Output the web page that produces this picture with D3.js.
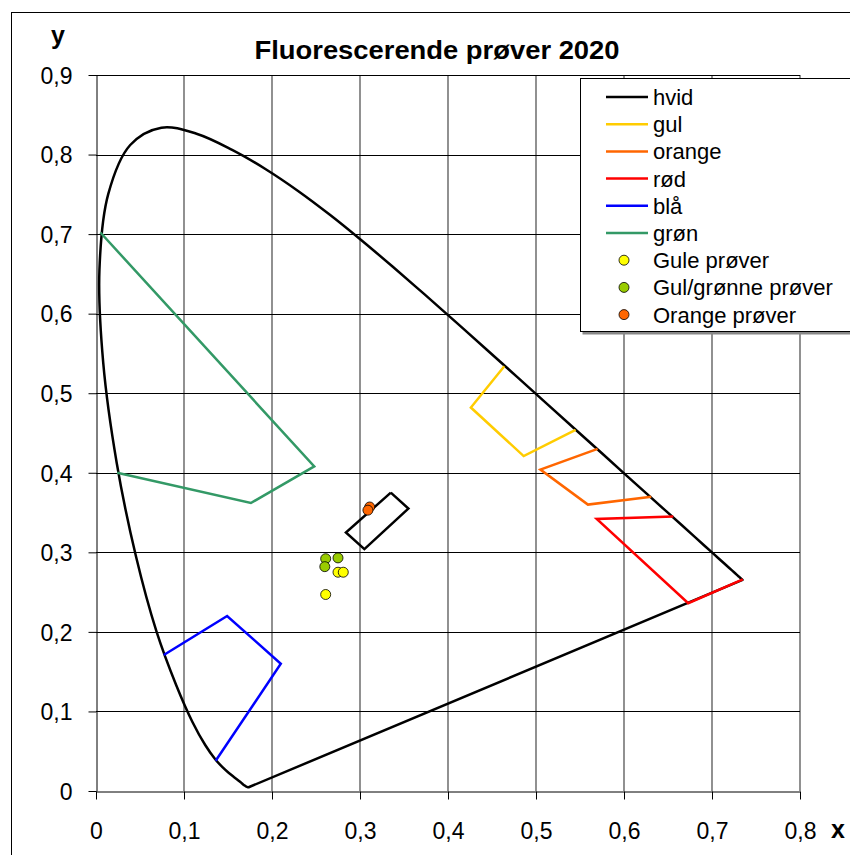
<!DOCTYPE html>
<meta charset="utf-8">
<script src="https://d3js.org/d3.v7.min.js"></script>
<style type="text/css">
  body { margin: 0; background: #fff; }
  svg { display: block; font-family: "Liberation Sans", Arial, sans-serif; }
  .tick text { font-size: 23px; fill: #000; }
</style>

<body></body>

<script>
  // CIE 1931 spectral locus (x, y)
  var locus = [
    [0.1741, 0.0050], [0.1738, 0.0049], [0.1733, 0.0048], [0.1726, 0.0048],
    [0.1714, 0.0051], [0.1703, 0.0058], [0.1689, 0.0069], [0.1669, 0.0086],
    [0.1644, 0.0109], [0.1611, 0.0138], [0.1566, 0.0177], [0.1510, 0.0227],
    [0.1440, 0.0297], [0.1355, 0.0399], [0.1241, 0.0578], [0.1096, 0.0868],
    [0.0913, 0.1327], [0.0687, 0.2007], [0.0454, 0.2950], [0.0235, 0.4127],
    [0.0082, 0.5384], [0.0039, 0.6548], [0.0139, 0.7502], [0.0389, 0.8120],
    [0.0743, 0.8338], [0.1142, 0.8262], [0.1547, 0.8059], [0.1929, 0.7816],
    [0.2296, 0.7543], [0.2658, 0.7243], [0.3016, 0.6923], [0.3373, 0.6589],
    [0.3731, 0.6245], [0.4087, 0.5896], [0.4441, 0.5547], [0.4788, 0.5202],
    [0.5125, 0.4866], [0.5448, 0.4544], [0.5752, 0.4242], [0.6029, 0.3965],
    [0.6270, 0.3725], [0.6482, 0.3514], [0.6658, 0.3340], [0.6801, 0.3197],
    [0.6915, 0.3083], [0.7006, 0.2993], [0.7079, 0.2920], [0.7140, 0.2859],
    [0.7190, 0.2809], [0.7230, 0.2770], [0.7260, 0.2740], [0.7283, 0.2717],
    [0.7300, 0.2700], [0.7320, 0.2680], [0.7334, 0.2666], [0.7347, 0.2653]
  ];

  // colour regions
  var hvid = [[0.335, 0.375], [0.355, 0.355], [0.305, 0.304], [0.284, 0.325], [0.335, 0.375]];
  var gul = [[0.464, 0.534], [0.426, 0.482], [0.486, 0.421], [0.545, 0.454]];
  var orange = [[0.570, 0.430], [0.505, 0.404], [0.559, 0.360], [0.631, 0.370]];
  var rod = [[0.656, 0.345], [0.569, 0.342], [0.673, 0.236], [0.735, 0.266]];
  var bla = [[0.077, 0.171], [0.149, 0.220], [0.210, 0.160], [0.136, 0.038]];
  var gron = [[0.005, 0.702], [0.248, 0.408], [0.176, 0.362], [0.024, 0.400]];

  // measured samples
  var guleProver = [[0.275, 0.275], [0.281, 0.275], [0.261, 0.247]];
  var gulGronneProver = [[0.261, 0.292], [0.260, 0.282], [0.275, 0.293]];
  var orangeProver = [[0.311, 0.357], [0.309, 0.353]];

  var xTicks = [0, 0.1, 0.2, 0.3, 0.4, 0.5, 0.6, 0.7, 0.8];
  var yTicks = [0, 0.1, 0.2, 0.3, 0.4, 0.5, 0.6, 0.7, 0.8, 0.9];

  var lineSeries = [
    {name: 'hvid', data: hvid, color: '#000000'},
    {name: 'gul', data: gul, color: '#FFCC00'},
    {name: 'orange', data: orange, color: '#FF6600'},
    {name: 'rød', data: rod, color: '#FF0000'},
    {name: 'blå', data: bla, color: '#0000FF'},
    {name: 'grøn', data: gron, color: '#339966'}
  ];
  var pointSeries = [
    {name: 'Gule prøver', data: guleProver, color: '#FFFF00'},
    {name: 'Gul/grønne prøver', data: gulGronneProver, color: '#99CC00'},
    {name: 'Orange prøver', data: orangeProver, color: '#FF6600'}
  ];

  var width = 850;
  var height = 855;
  var svg = d3.select('body').append('svg')
    .attr('width', width)
    .attr('height', height);

  var xScale = d3.scaleLinear().domain([0, 0.8]).range([96, 800]);
  var yScale = d3.scaleLinear().domain([0, 0.9]).range([791, 75]);
  var fmt = d3.formatLocale({decimal: ',', thousands: '.', grouping: [3], currency: ['', '']}).format('.1~f');

  // chart border
  svg.append('rect')
    .attr('x', 11.5).attr('y', 12.5)
    .attr('width', 860).attr('height', 860)
    .attr('fill', '#fff').attr('stroke', '#000');

  // gridlines
  svg.append('g').selectAll('line')
    .data(xTicks.slice(1))
    .enter().append('line')
    .attr('x1', function(d) {return xScale(d)})
    .attr('x2', function(d) {return xScale(d)})
    .attr('y1', yScale(0.9)).attr('y2', yScale(0))
    .attr('stroke', '#555').attr('stroke-width', 1.3);
  svg.append('g').selectAll('line')
    .data(yTicks.slice(1))
    .enter().append('line')
    .attr('x1', xScale(0)).attr('x2', xScale(0.8))
    .attr('y1', function(d) {return Math.round(yScale(d)) + 0.5})
    .attr('y2', function(d) {return Math.round(yScale(d)) + 0.5})
    .attr('stroke', '#000').attr('stroke-width', 1);

  // axes
  var xAxis = svg.append('g')
    .attr('transform', 'translate(0,' + (yScale(0) + 0.5) + ')')
    .call(d3.axisBottom(xScale).tickValues(xTicks).tickFormat(fmt)
      .tickSizeInner(8).tickSizeOuter(0).tickPadding(23));
  var yAxis = svg.append('g')
    .attr('transform', 'translate(' + (xScale(0) + 0.5) + ',0)')
    .call(d3.axisLeft(yScale).tickValues(yTicks).tickFormat(fmt)
      .tickSizeInner(8).tickSizeOuter(0).tickPadding(16));
  svg.selectAll('.domain').attr('stroke', '#000');
  svg.selectAll('.tick line').attr('stroke', '#000');
  svg.selectAll('.tick text').attr('font-family', '"Liberation Sans", Arial, sans-serif');
  yAxis.selectAll('.tick text').attr('dy', '0.36em');

  var line = d3.line()
    .x(function(d) {return xScale(d[0])})
    .y(function(d) {return yScale(d[1])});
  var smooth = d3.line()
    .x(function(d) {return xScale(d[0])})
    .y(function(d) {return yScale(d[1])})
    .curve(d3.curveCatmullRom.alpha(0.5));

  // spectral locus (smooth) plus the straight purple line closing it
  svg.append('path')
    .datum(locus)
    .attr('d', smooth)
    .attr('fill', 'none')
    .attr('stroke', '#000')
    .attr('stroke-width', 2.5)
    .attr('stroke-linejoin', 'round');
  svg.append('path')
    .datum([locus[locus.length - 1], locus[0]])
    .attr('d', line)
    .attr('fill', 'none')
    .attr('stroke', '#000')
    .attr('stroke-width', 2.5)
    .attr('stroke-linecap', 'round');

  svg.append('g').selectAll('path')
    .data(lineSeries)
    .enter().append('path')
    .attr('d', function(d) {return line(d.data)})
    .attr('fill', 'none')
    .attr('stroke', function(d) {return d.color})
    .attr('stroke-width', 2.5);

  pointSeries.forEach(function(s) {
    svg.append('g').selectAll('circle')
      .data(s.data)
      .enter().append('circle')
      .attr('cx', function(d) {return xScale(d[0])})
      .attr('cy', function(d) {return yScale(d[1])})
      .attr('r', 5)
      .attr('fill', s.color)
      .attr('stroke', '#000')
      .attr('stroke-width', 0.8);
  });

  // titles
  svg.append('text')
    .attr('x', 437).attr('y', 59)
    .attr('text-anchor', 'middle')
    .attr('font-size', 25).attr('font-weight', 'bold')
    .attr('textLength', 365).attr('lengthAdjust', 'spacingAndGlyphs')
    .text('Fluorescerende prøver 2020');
  svg.append('text')
    .attr('x', 58).attr('y', 44)
    .attr('text-anchor', 'middle')
    .attr('font-size', 25).attr('font-weight', 'bold')
    .text('y');
  svg.append('text')
    .attr('x', 838).attr('y', 838)
    .attr('text-anchor', 'middle')
    .attr('font-size', 25).attr('font-weight', 'bold')
    .text('x');

  // legend
  var legend = svg.append('g');
  legend.append('rect')
    .attr('x', 582.5).attr('y', 80.5)
    .attr('width', 300).attr('height', 254)
    .attr('fill', '#888');
  legend.append('rect')
    .attr('x', 580.5).attr('y', 78.5)
    .attr('width', 300).attr('height', 253)
    .attr('fill', '#fff').attr('stroke', '#000');

  var rowH = 27.2;
  var rows = legend.selectAll('g.row')
    .data(lineSeries.concat(pointSeries))
    .enter().append('g')
    .attr('class', 'row')
    .attr('transform', function(d, i) {return 'translate(0,' + (97 + i * rowH) + ')'});
  rows.filter(function(d, i) {return i < lineSeries.length})
    .append('line')
    .attr('x1', 606).attr('x2', 648)
    .attr('stroke', function(d) {return d.color})
    .attr('stroke-width', 2.5);
  rows.filter(function(d, i) {return i >= lineSeries.length})
    .append('circle')
    .attr('cx', 624).attr('r', 5)
    .attr('fill', function(d) {return d.color})
    .attr('stroke', '#000').attr('stroke-width', 0.8);
  rows.append('text')
    .attr('x', 653).attr('dy', '0.36em')
    .attr('font-size', 22)
    .text(function(d) {return d.name});
</script>
